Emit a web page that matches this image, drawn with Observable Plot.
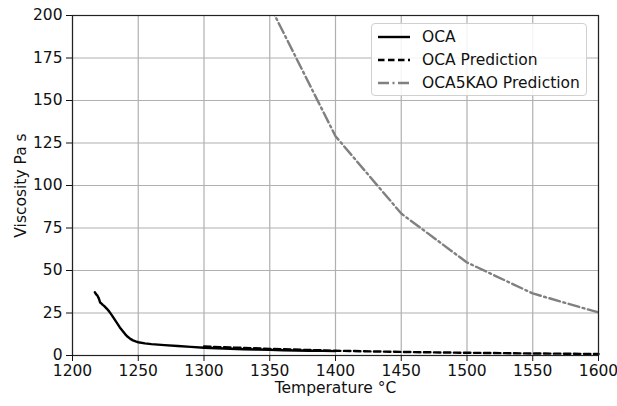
<!DOCTYPE html>
<html>
<head>
<meta charset="utf-8">
<script src="https://cdn.jsdelivr.net/npm/d3@7"></script>
<script src="https://cdn.jsdelivr.net/npm/@observablehq/plot@0.6"></script>
<style>
  html, body { margin: 0; padding: 0; background: #fff; }
  #wrap { position: relative; width: 617px; height: 406px; font-family: "DejaVu Sans", sans-serif; }
  #legend { position: absolute; left: 371px; top: 23px; width: 216px; height: 73px;
    background: rgba(255,255,255,0.85); border: 1px solid #d0d0d0; border-radius: 4px; box-sizing: border-box;
    padding: 1px 0 0 5px; }
  .row { display: flex; align-items: center; height: 23px; font-size: 15.5px; color: #111; }
  .row svg { margin-right: 11px; }
</style>
</head>
<body>
<div id="wrap"></div>
<script>
// Measured OCA viscosity
const ocaT = [1217,1218,1219,1220,1221,1222,1223,1224,1226,1228,1230,1232,1234,1236,1238,1240,1242,1244,1246,1248,1250,1255,1260,1265,1270,1280,1290,1300,1310,1320,1330,1340,1350,1360,1370,1380,1390,1400];
const ocaV = [37.2,36.0,35.2,33.6,31.2,30.6,29.8,29.2,27.6,25.8,23.6,21.2,18.9,16.5,14.6,12.6,11.0,9.8,8.9,8.3,7.8,7.1,6.7,6.4,6.1,5.6,5.1,4.6,4.3,4.0,3.7,3.5,3.3,3.1,2.9,2.8,2.7,2.6];
// OCA prediction
const predT = [1300,1350,1400,1450,1500,1550,1600];
const predV = [5.3,3.9,2.8,2.1,1.6,1.2,0.9];
// OCA5KAO prediction
const kaoT = [1350,1400,1450,1500,1550,1600];
const kaoV = [206,129,83.5,54.7,36.5,25.3];
// Ticks
const xTicks = [1200,1250,1300,1350,1400,1450,1500,1550,1600];
const yTicks = [0,25,50,75,100,125,150,175,200];
const seriesNames = ["OCA","OCA Prediction","OCA5KAO Prediction"];

const oca = ocaT.map((t,i)=>({t, v: ocaV[i]}));
const pred = predT.map((t,i)=>({t, v: predV[i]}));
const kao = kaoT.map((t,i)=>({t, v: kaoV[i]}));

const chart = Plot.plot({
  width: 617, height: 406,
  marginLeft: 72, marginRight: 19, marginTop: 15, marginBottom: 51,
  style: {fontFamily: "DejaVu Sans, sans-serif", fontSize: "15.5px", color: "#111", background: "white"},
  x: {domain: [1200, 1600]},
  y: {domain: [0, 200]},
  marks: [
    Plot.gridX(xTicks, {stroke: "#b0b0b0", strokeOpacity: 1, strokeWidth: 1.2}),
    Plot.gridY(yTicks, {stroke: "#b0b0b0", strokeOpacity: 1, strokeWidth: 1.2}),
    Plot.line(kao, {x: "t", y: "v", stroke: "#808080", strokeWidth: 2.4, strokeDasharray: "11,3.5,2,3.5", clip: true}),
    Plot.line(pred, {x: "t", y: "v", stroke: "black", strokeWidth: 2.4, strokeDasharray: "6.5,3.5"}),
    Plot.line(oca, {x: "t", y: "v", stroke: "black", strokeWidth: 2.4}),
    Plot.frame({stroke: "#222", strokeWidth: 1.2}),
    Plot.axisX(xTicks, {tickSize: 6, tickPadding: 3, fontSize: 15.5, tickFormat: d => String(d), label: "Temperature °C", labelAnchor: "center", labelArrow: "none", labelOffset: 37}),
    Plot.axisY(yTicks, {tickSize: 6, tickPadding: 4, fontSize: 15.5, tickFormat: d => String(d), label: "Viscosity Pa s", labelAnchor: "center", labelArrow: "none", labelOffset: 58})
  ]
});
const wrap = document.getElementById("wrap");
wrap.appendChild(chart);

const dashes = ["", "6.5,3.5", "11,3.5,2,3.5"];
const colors = ["black", "black", "#808080"];
const legend = document.createElement("div");
legend.id = "legend";
seriesNames.forEach((name, i) => {
  const row = document.createElement("div");
  row.className = "row";
  row.innerHTML = `<svg width="34" height="6"><line x1="1" y1="3" x2="33" y2="3" stroke="${colors[i]}" stroke-width="2.4" ${dashes[i] ? `stroke-dasharray="${dashes[i]}"` : ""}/></svg><span>${name}</span>`;
  legend.appendChild(row);
});
wrap.appendChild(legend);
</script>
</body>
</html>
